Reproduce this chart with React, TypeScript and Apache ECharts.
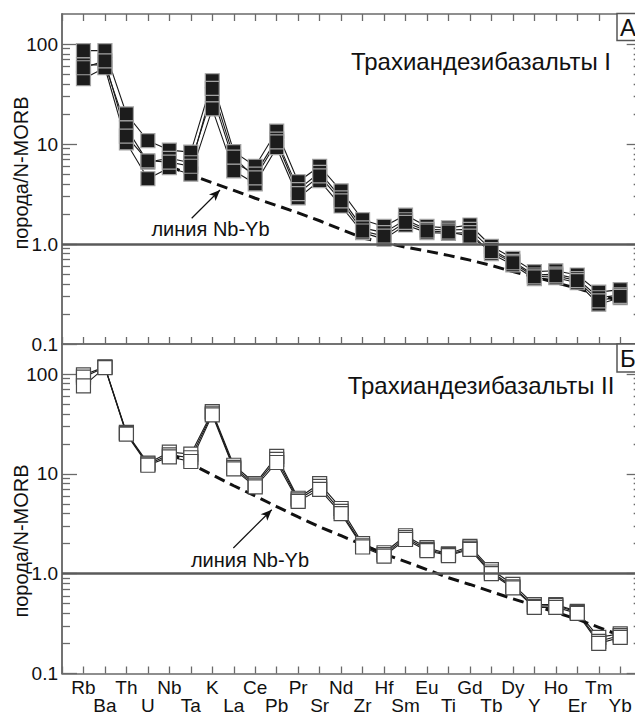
import React, { useEffect, useRef } from "react";
import * as echarts from "echarts";

const elements = ["Rb","Ba","Th","U","Nb","Ta","K","La","Ce","Pb","Pr","Sr","Nd","Zr","Hf","Sm","Eu","Ti","Gd","Tb","Dy","Y","Ho","Er","Tm","Yb"];

// Panel A (Трахиандезибазальты I), four samples
const topSampleA = [86, 86, 20, 10.8, 8.7, 8.3, 43, 8.4, 6.0, 13.5, 4.2, 6.0, 3.4, 1.75, 1.5, 1.95, 1.5, 1.45, 1.55, 0.95, 0.72, 0.53, 0.54, 0.49, 0.33, 0.35];
const topSampleB = [62, 62, 14.5, 6.6, 7.2, 6.5, 31, 6.6, 5.0, 11.2, 3.5, 5.2, 2.9, 1.45, 1.3, 1.75, 1.4, 1.38, 1.4, 0.88, 0.67, 0.49, 0.5, 0.45, 0.29, 0.31];
const topSampleC = [45, 58, 10.3, 4.5, 5.8, 5.0, 22.5, 5.4, 4.0, 9.2, 2.9, 4.3, 2.4, 1.3, 1.12, 1.55, 1.3, 1.28, 1.3, 0.8, 0.62, 0.45, 0.46, 0.41, 0.25, 0.29];
const topSampleD = [58, 68, 12, 6.8, 6.6, 6.0, 36, 7.4, 4.6, 10.5, 3.2, 4.8, 2.7, 1.35, 1.2, 1.65, 1.35, 1.32, 1.2, 0.84, 0.65, 0.47, 0.48, 0.43, 0.27, 0.3];

// Panel Б (Трахиандезибазальты II), three samples
const bottomSampleA = [98, 118, 26, 12.8, 16.5, 15.8, 42, 12.2, 8.0, 15, 5.7, 8.0, 4.5, 2.0, 1.62, 2.4, 1.82, 1.58, 1.88, 1.1, 0.78, 0.49, 0.49, 0.42, 0.23, 0.25];
const bottomSampleB = [93, 117, 25.5, 12.5, 15.5, 14.5, 40.5, 11.6, 7.7, 14, 5.5, 7.5, 4.2, 1.9, 1.55, 2.3, 1.75, 1.55, 1.8, 1.04, 0.74, 0.47, 0.48, 0.41, 0.21, 0.24];
const bottomSampleC = [76, 116, 25, 12.2, 14.8, 13.3, 39, 11.2, 7.4, 13, 5.3, 7.0, 4.0, 1.85, 1.5, 2.2, 1.7, 1.52, 1.75, 1.0, 0.72, 0.46, 0.46, 0.4, 0.2, 0.23];

// "линия Nb-Yb" reference lines, from Nb to Yb
const nbYbStart = "Nb";
const nbYbTop = [6.0, 4.93, 4.1, 3.44, 2.87, 2.43, 2.05, 1.71, 1.40, 1.15, 1.035, 0.93, 0.85, 0.77, 0.69, 0.61, 0.53, 0.47, 0.41, 0.36, 0.31, 0.27];
const nbYbBottom = [16.2, 12.6, 9.8, 7.6, 6.0, 4.7, 3.7, 2.95, 2.4, 1.95, 1.58, 1.32, 1.1, 0.91, 0.78, 0.66, 0.56, 0.48, 0.41, 0.35, 0.29, 0.24];

const majorTicks = [0.1, 1, 10, 100];
const minorTicks = [0.2, 0.3, 0.4, 0.5, 0.6, 0.7, 0.8, 0.9, 2, 3, 4, 5, 6, 7, 8, 9, 20, 30, 40, 50, 60, 70, 80, 90];
const yMin = 0.1;
const yMax = 200;
const referenceLevel = 1;

const panelTitles = ["Трахиандезибазальты I", "Трахиандезибазальты II"];
const panelLetters = ["А", "Б"];
const yAxisTitle = "порода/N-MORB";
const lineLabel = "линия Nb-Yb";

// arrows (data coordinates: [x position, value])
const arrowTop = [[6.04, 1.81], [7.36, 3.47]];
const arrowBottom = [[7.98, 1.81], [9.77, 4.37]];

const FONT = "'Liberation Sans', Arial, Helvetica, sans-serif";
const AXIS_COLOR = "#6a6a6a";

function fmtY(v: number) {
  if (v < 0.5) return "0.1";
  if (v < 5) return "1.0";
  if (v < 50) return "10";
  return "100";
}

function toPairs(vals: number[], offset: number) {
  return vals.map((v, i) => [i + 1 + offset, v]);
}

export default function App() {
  const ref = useRef<HTMLDivElement>(null);
  useEffect(() => {
    if (!ref.current) return;
    const chart = echarts.init(ref.current, undefined, { renderer: "svg" });
    const STEP = 21.47;
    const LEFT = 62;
    const XMAX = 27;
    const W = STEP * XMAX;
    const grids = [
      { left: LEFT, top: 14, width: W, height: 330 },
      { left: LEFT, top: 344, width: W, height: 329.5 },
    ];
    const axisLine = { show: true, lineStyle: { color: AXIS_COLOR, width: 1.5 } };
    const tickStyle = { color: AXIS_COLOR, width: 1.3 };

    const xAxes: any[] = [];
    [0, 1].forEach((g) => {
      ["bottom", "top"].forEach((pos) => {
        const showTicks = !(g === 1 && pos === "top");
        const showLabels = g === 1 && pos === "bottom";
        xAxes.push({
          type: "value",
          gridIndex: g,
          position: pos,
          min: 0,
          max: XMAX,
          interval: 1,
          axisLine,
          axisTick: { show: showTicks, inside: true, length: 7, lineStyle: tickStyle },
          axisLabel: showLabels
            ? {
                show: true,
                margin: 5,
                fontSize: 19,
                lineHeight: 18,
                fontFamily: FONT,
                color: "#111",
                formatter: (v: number) => {
                  const i = Math.round(v) - 1;
                  if (i < 0 || i >= elements.length) return "";
                  return i % 2 === 0 ? elements[i] : "\n" + elements[i];
                },
              }
            : { show: false },
          splitLine: { show: false },
        });
      });
    });

    const yAxes: any[] = [];
    [0, 1].forEach((g) => {
      ["left", "right"].forEach((pos) => {
        [true, false].forEach((major) => {
          yAxes.push({
            type: "log",
            logBase: 10,
            gridIndex: g,
            position: pos,
            min: yMin,
            max: yMax,
            axisLine,
            axisTick: {
              show: true,
              inside: true,
              length: major ? 15 : 8,
              customValues: major ? majorTicks : minorTicks,
              lineStyle: tickStyle,
            },
            axisLabel:
              major && pos === "left"
                ? {
                    show: true,
                    customValues: majorTicks,
                    formatter: fmtY,
                    fontSize: 19,
                    fontFamily: FONT,
                    color: "#111",
                    margin: 4,
                  }
                : { show: false },
            splitLine: { show: false },
            minorTick: { show: false },
          });
        });
      });
    });

    const series: any[] = [];
    const panels = [
      { samples: [topSampleA, topSampleB, topSampleC, topSampleD], nbYb: nbYbTop, arrow: arrowTop, filled: true },
      { samples: [bottomSampleA, bottomSampleB, bottomSampleC], nbYb: nbYbBottom, arrow: arrowBottom, filled: false },
    ];
    const nbOffset = elements.indexOf(nbYbStart);
    panels.forEach((p, g) => {
      const xi = g * 2;
      const yi = g * 4;
      series.push({
        type: "line",
        xAxisIndex: xi,
        yAxisIndex: yi,
        data: [],
        silent: true,
        z: 1,
        markLine: {
          silent: true,
          symbol: "none",
          animation: false,
          label: { show: false },
          data: [
            { yAxis: referenceLevel, lineStyle: { color: "#5a5a5a", width: 2.5, type: "solid" } },
            [
              { coord: p.arrow[0], symbol: "none", lineStyle: { color: "#111", width: 1.2, type: "solid" } },
              { coord: p.arrow[1], symbol: "arrow", symbolSize: [7, 11] },
            ],
          ],
        },
      });
      p.samples.forEach((s) => {
        series.push({
          type: "line",
          xAxisIndex: xi,
          yAxisIndex: yi,
          data: toPairs(s, 0),
          symbol: "none",
          showSymbol: false,
          silent: true,
          z: 2,
          lineStyle: { color: "#1a1a1a", width: 1.1 },
        });
      });
      series.push({
        type: "line",
        xAxisIndex: xi,
        yAxisIndex: yi,
        data: toPairs(p.nbYb, nbOffset),
        symbol: "none",
        showSymbol: false,
        silent: true,
        z: 3,
        lineStyle: { color: "#111", width: 3, type: [11, 6] },
      });
      p.samples.forEach((s) => {
        series.push({
          type: "scatter",
          xAxisIndex: xi,
          yAxisIndex: yi,
          data: toPairs(s, 0),
          symbol: "rect",
          symbolSize: 14,
          silent: true,
          z: 4,
          itemStyle: p.filled
            ? { color: "#1c1c1c", borderColor: "#a3a3a3", borderWidth: 1.2, opacity: 1 }
            : { color: "#ffffff", borderColor: "#4a4a4a", borderWidth: 1.2, opacity: 1 },
        });
      });
    });

    const textStyle = (text: string, size: number, extra: any = {}) => ({
      text,
      fontSize: size,
      fontFamily: FONT,
      fill: "#111",
      align: "center",
      verticalAlign: "middle",
      ...extra,
    });

    const graphic: any[] = [
      { type: "text", x: 481, y: 61, z: 50, style: textStyle(panelTitles[0], 24) },
      { type: "text", x: 481, y: 385, z: 50, style: textStyle(panelTitles[1], 24) },
      { type: "text", x: 21, y: 173, rotation: Math.PI / 2, z: 50, style: textStyle(yAxisTitle, 20) },
      { type: "text", x: 21, y: 541, rotation: Math.PI / 2, z: 50, style: textStyle(yAxisTitle, 20) },
      { type: "text", x: 210.5, y: 229, z: 50, style: textStyle(lineLabel, 20) },
      { type: "text", x: 250, y: 560, z: 50, style: textStyle(lineLabel, 20) },
      { type: "rect", z: 100, shape: { x: 617, y: 13.5, width: 40, height: 27 }, style: { fill: "#fff", stroke: "#555", lineWidth: 1.5 } },
      { type: "text", x: 620, y: 27.5, z: 101, style: textStyle(panelLetters[0], 24, { align: "left" }) },
      { type: "rect", z: 100, shape: { x: 617, y: 344, width: 40, height: 28 }, style: { fill: "#fff", stroke: "#555", lineWidth: 1.5 } },
      { type: "text", x: 620, y: 358.5, z: 101, style: textStyle(panelLetters[1], 24, { align: "left" }) },
    ];

    chart.setOption({
      animation: false,
      backgroundColor: "#ffffff",
      grid: grids.map((g) => ({ ...g, containLabel: false, outerBoundsMode: "none" })),
      xAxis: xAxes,
      yAxis: yAxes,
      series,
      graphic,
    });
    return () => chart.dispose();
  }, []);

  return (
    <div style={{ position: "fixed", left: 0, top: 0, width: 635, height: 715, overflow: "hidden", background: "#fff" }}>
      <div ref={ref} style={{ width: 660, height: 715 }} />
    </div>
  );
}
